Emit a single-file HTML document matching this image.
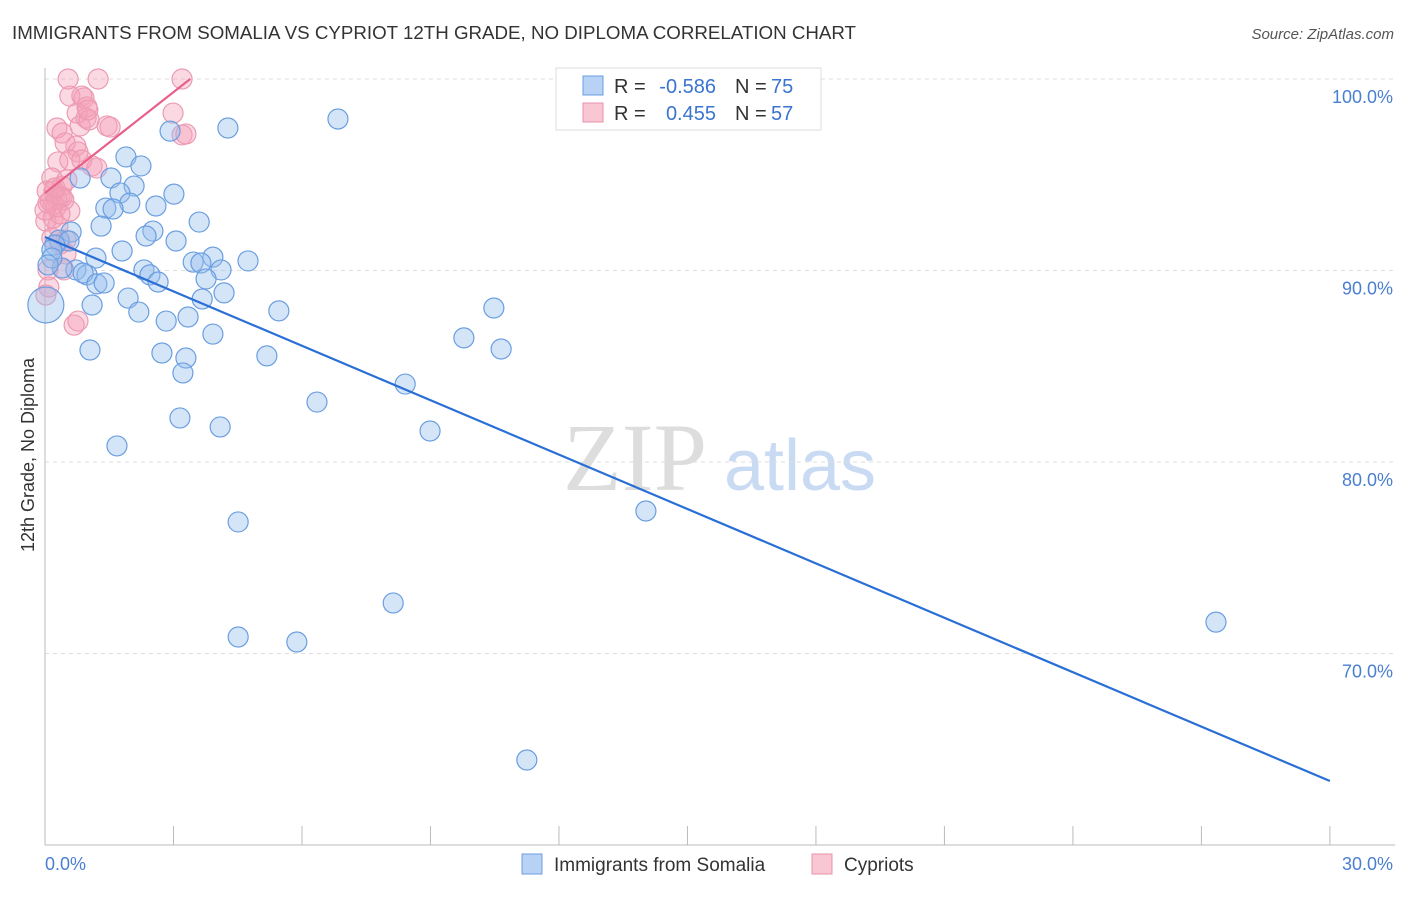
<!DOCTYPE html>
<html><head><meta charset="utf-8"><style>
body{margin:0;background:#fff;font-family:"Liberation Sans",sans-serif;}
</style></head><body>
<svg id="chart" width="1406" height="892" xmlns="http://www.w3.org/2000/svg" font-family="Liberation Sans, sans-serif">
<text x="12" y="39" font-size="18" fill="#333" textLength="844" lengthAdjust="spacingAndGlyphs">IMMIGRANTS FROM SOMALIA VS CYPRIOT 12TH GRADE, NO DIPLOMA CORRELATION CHART</text>
<text x="1394" y="39" font-size="15" fill="#555" font-style="italic" text-anchor="end">Source: ZipAtlas.com</text>
<text transform="translate(34,455) rotate(-90)" font-size="18" fill="#333" text-anchor="middle">12th Grade, No Diploma</text>
<g><text x="635" y="490" font-size="96" fill="#ddd" text-anchor="middle" font-family="Liberation Serif, serif">ZIP</text><text x="800" y="490" font-size="72" fill="#c9daf3" text-anchor="middle">atlas</text></g>
<g id="grid"></g><g id="axes"></g><g id="pts"></g><g id="lines"></g>
<g>
<rect x="556" y="68" width="265" height="62" fill="#fff" stroke="#ddd"/>
<rect x="583" y="76" width="20" height="19" fill="#b8d2f5" stroke="#6a9ee0"/>
<rect x="583" y="103" width="20" height="19" fill="#f9c6d4" stroke="#e890a8"/>
<text x="614" y="93" font-size="20" fill="#333">R =</text>
<text x="716" y="93" font-size="20" fill="#3a74d0" text-anchor="end">-0.586</text>
<text x="735" y="93" font-size="20" fill="#333">N =</text>
<text x="771" y="93" font-size="20" fill="#3a74d0">75</text>
<text x="614" y="120" font-size="20" fill="#333">R =</text>
<text x="716" y="120" font-size="20" fill="#3a74d0" text-anchor="end">0.455</text>
<text x="735" y="120" font-size="20" fill="#333">N =</text>
<text x="771" y="120" font-size="20" fill="#3a74d0">57</text>
</g>
<g>
<rect x="522" y="854" width="20" height="20" fill="#b8d2f5" stroke="#6a9ee0"/>
<text x="554" y="871" font-size="19" fill="#333">Immigrants from Somalia</text>
<rect x="812" y="854" width="20" height="20" fill="#f9c6d4" stroke="#e890a8"/>
<text x="844" y="871" font-size="19" fill="#333">Cypriots</text>
</g>
</svg>
<script>
const yTicks=[100,90,80,70];
const xTickLabels=["0.0%","30.0%"];
const blueX=[4.27,6.84,2.92,1.89,2.24,1.54,0.82,2.08,1.75,3.01,1.42,1.98,1.59,2.59,3.60,1.31,2.52,2.36,3.06,0.61,0.33,0.56,0.23,0.16,1.80,3.92,4.74,1.19,3.46,3.64,4.11,2.31,2.45,0.72,0.98,0.89,2.64,3.76,1.21,1.38,4.18,1.94,1.10,3.67,5.46,2.19,10.48,2.83,3.34,3.92,9.78,10.65,1.05,2.73,3.29,5.18,3.22,8.41,6.35,3.15,4.09,8.99,1.68,4.51,14.03,8.13,4.51,5.88,27.34,11.25,0.40,0.16,0.07,0.02];
const blueY=[97.44,97.91,97.28,95.93,95.46,94.83,94.83,94.41,94.05,93.99,93.26,93.52,93.21,93.37,92.53,92.32,92.06,91.80,91.54,92.01,91.59,91.54,91.33,91.07,91.02,90.70,90.50,90.65,90.44,90.39,90.03,90.03,89.77,90.03,89.77,89.87,89.40,89.56,89.30,89.35,88.83,88.56,88.20,88.51,87.89,87.83,88.04,87.36,87.57,86.68,86.48,85.90,85.85,85.69,85.43,85.54,84.65,84.07,83.13,82.30,81.83,81.62,80.84,76.87,77.44,72.64,70.86,70.60,71.64,64.44,90.13,90.65,90.29,88.20];
const blueR=[10,10,10,10,10,10,10,10,10,10,10,10,10,10,10,10,10,10,10,10,10,10,10,10,10,10,10,10,10,10,10,10,10,10,10,10,10,10,10,10,10,10,10,10,10,10,10,10,10,10,10,10,10,10,10,10,10,10,10,10,10,10,10,10,10,10,10,10,10,10,10,10,10,18];
const pinkX=[0.54,1.24,3.20,0.58,0.86,0.91,0.98,0.75,2.99,0.28,0.82,0.96,1.45,1.03,0.40,1.52,3.20,3.29,0.72,0.47,0.77,0.30,1.10,0.58,0.86,1.21,0.16,0.40,0.05,0.21,0.35,0.44,0.12,0.26,0.58,0.19,0.02,0.30,0.16,0.35,0.49,0.07,0.44,0.09,0.02,0.68,0.77,0.19,0.28,0.40,0.07,0.23,0.51,1.00,0.35,0.00,0.49];
const pinkY=[100,100,100,99.11,99.11,99.01,98.54,98.22,98.22,97.44,97.55,97.96,97.55,97.86,97.18,97.49,97.08,97.13,96.50,96.66,96.19,95.67,95.46,95.77,95.77,95.35,94.83,94.41,94.15,94.15,93.89,93.68,93.63,93.32,93.11,92.74,92.58,92.32,91.70,91.38,90.86,90.03,90.03,89.14,88.72,87.15,87.36,93.42,93.73,93.84,93.52,94.31,94.73,98.38,92.95,93.16,91.59];
const blueTrend=[[0,91.75],[30,63.34]];
const pinkTrend=[[0,94.05],[3.39,100]];
const NS="http://www.w3.org/2000/svg";
const X=v=>45+v*42.83, Y=v=>79+(100-v)*19.15;
function mk(t,a,p){const e=document.createElementNS(NS,t);for(const k in a)e.setAttribute(k,a[k]);p.appendChild(e);return e;}
const grid=document.getElementById('grid'),axes=document.getElementById('axes'),pts=document.getElementById('pts'),lines=document.getElementById('lines');
yTicks.forEach(t=>{
 const l=mk('line',{x1:45,x2:1395,y1:Y(t),y2:Y(t),stroke:'#ddd','stroke-dasharray':'4,4'},grid);
 
 
 const tx=mk('text',{x:1393,y:Y(t)+24,'font-size':18,fill:'#4a7fd0','text-anchor':'end'},grid);tx.textContent=t.toFixed(1)+'%';
 
 
});
const ya=mk('line',{x1:45,x2:45,y1:68,y2:845,stroke:'#bbb'},axes);


const xa=mk('line',{x1:45,x2:1395,y1:845,y2:845,stroke:'#bbb'},axes);


for(let i=0;i<=10;i++){const tk=mk('line',{x1:X(i*3),x2:X(i*3),y1:826,y2:845,stroke:'#bbb'},axes);
 
 }
const xl0=mk('text',{x:45,y:870,'font-size':18,fill:'#4a7fd0'},axes);xl0.textContent=xTickLabels[0];


const xl1=mk('text',{x:1393,y:870,'font-size':18,fill:'#4a7fd0','text-anchor':'end'},axes);xl1.textContent=xTickLabels[1];


pinkX.forEach((v,i)=>{const c=mk('circle',{cx:X(v),cy:Y(pinkY[i]),r:10,fill:'rgba(245,160,185,0.4)',stroke:'#ec9ab2','stroke-width':1.2},pts);
 
 });
blueX.forEach((v,i)=>{const c=mk('circle',{cx:X(v),cy:Y(blueY[i]),r:blueR[i],fill:'rgba(150,190,238,0.4)',stroke:'#6a9ee0','stroke-width':1.2},pts);
 
 });
const bl=mk('line',{x1:X(blueTrend[0][0]),y1:Y(blueTrend[0][1]),x2:X(blueTrend[1][0]),y2:Y(blueTrend[1][1]),stroke:'#2a6fd6','stroke-width':2.2},lines);


const pl=mk('line',{x1:X(pinkTrend[0][0]),y1:Y(pinkTrend[0][1]),x2:X(pinkTrend[1][0]),y2:Y(pinkTrend[1][1]),stroke:'#e8608a','stroke-width':2.2},lines);


</script>
</body></html>
